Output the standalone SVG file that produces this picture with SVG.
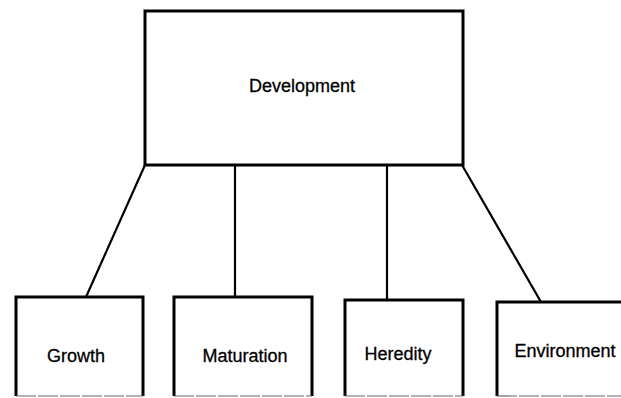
<svg xmlns="http://www.w3.org/2000/svg" width="621" height="398" viewBox="0 0 621 398">
<style>
.box{fill:#fff;stroke:#000;stroke-width:3}
.base{stroke:#666;stroke-width:1.2;stroke-dasharray:20 2}
.lbl{font-family:"Liberation Sans",Arial,sans-serif;font-size:18px;fill:#000;stroke:#000;stroke-width:0.3;text-anchor:middle}
.con line{stroke:#000;stroke-width:2.2}
</style>
<rect width="621" height="398" fill="#fff"/>
<g id="connectors" class="con">
<line x1="145" y1="165" x2="86" y2="297"/>
<line x1="235" y1="165" x2="235" y2="297"/>
<line x1="387" y1="165" x2="387" y2="300"/>
<line x1="462" y1="165" x2="541" y2="302"/>
</g>
<g id="development">
<rect class="box" x="145" y="11" width="318" height="154"/>
<text class="lbl" x="302" y="92">Development</text>
</g>
<g id="growth">
<path class="box" d="M16 396V297H143V396"/>
<line class="base" x1="16" y1="396" x2="143" y2="396"/>
<text class="lbl" x="76" y="362">Growth</text>
</g>
<g id="maturation">
<path class="box" d="M174 396V297H312V396"/>
<line class="base" x1="174" y1="396" x2="312" y2="396"/>
<text class="lbl" x="245" y="362">Maturation</text>
</g>
<g id="heredity">
<path class="box" d="M345 396V300H463V396"/>
<line class="base" x1="345" y1="396" x2="463" y2="396"/>
<text class="lbl" x="398" y="360">Heredity</text>
</g>
<g id="environment">
<path class="box" d="M497 396V302H625"/>
<line class="base" x1="497" y1="396" x2="625" y2="396"/>
<text class="lbl" x="565" y="357">Environment</text>
</g>
</svg>
